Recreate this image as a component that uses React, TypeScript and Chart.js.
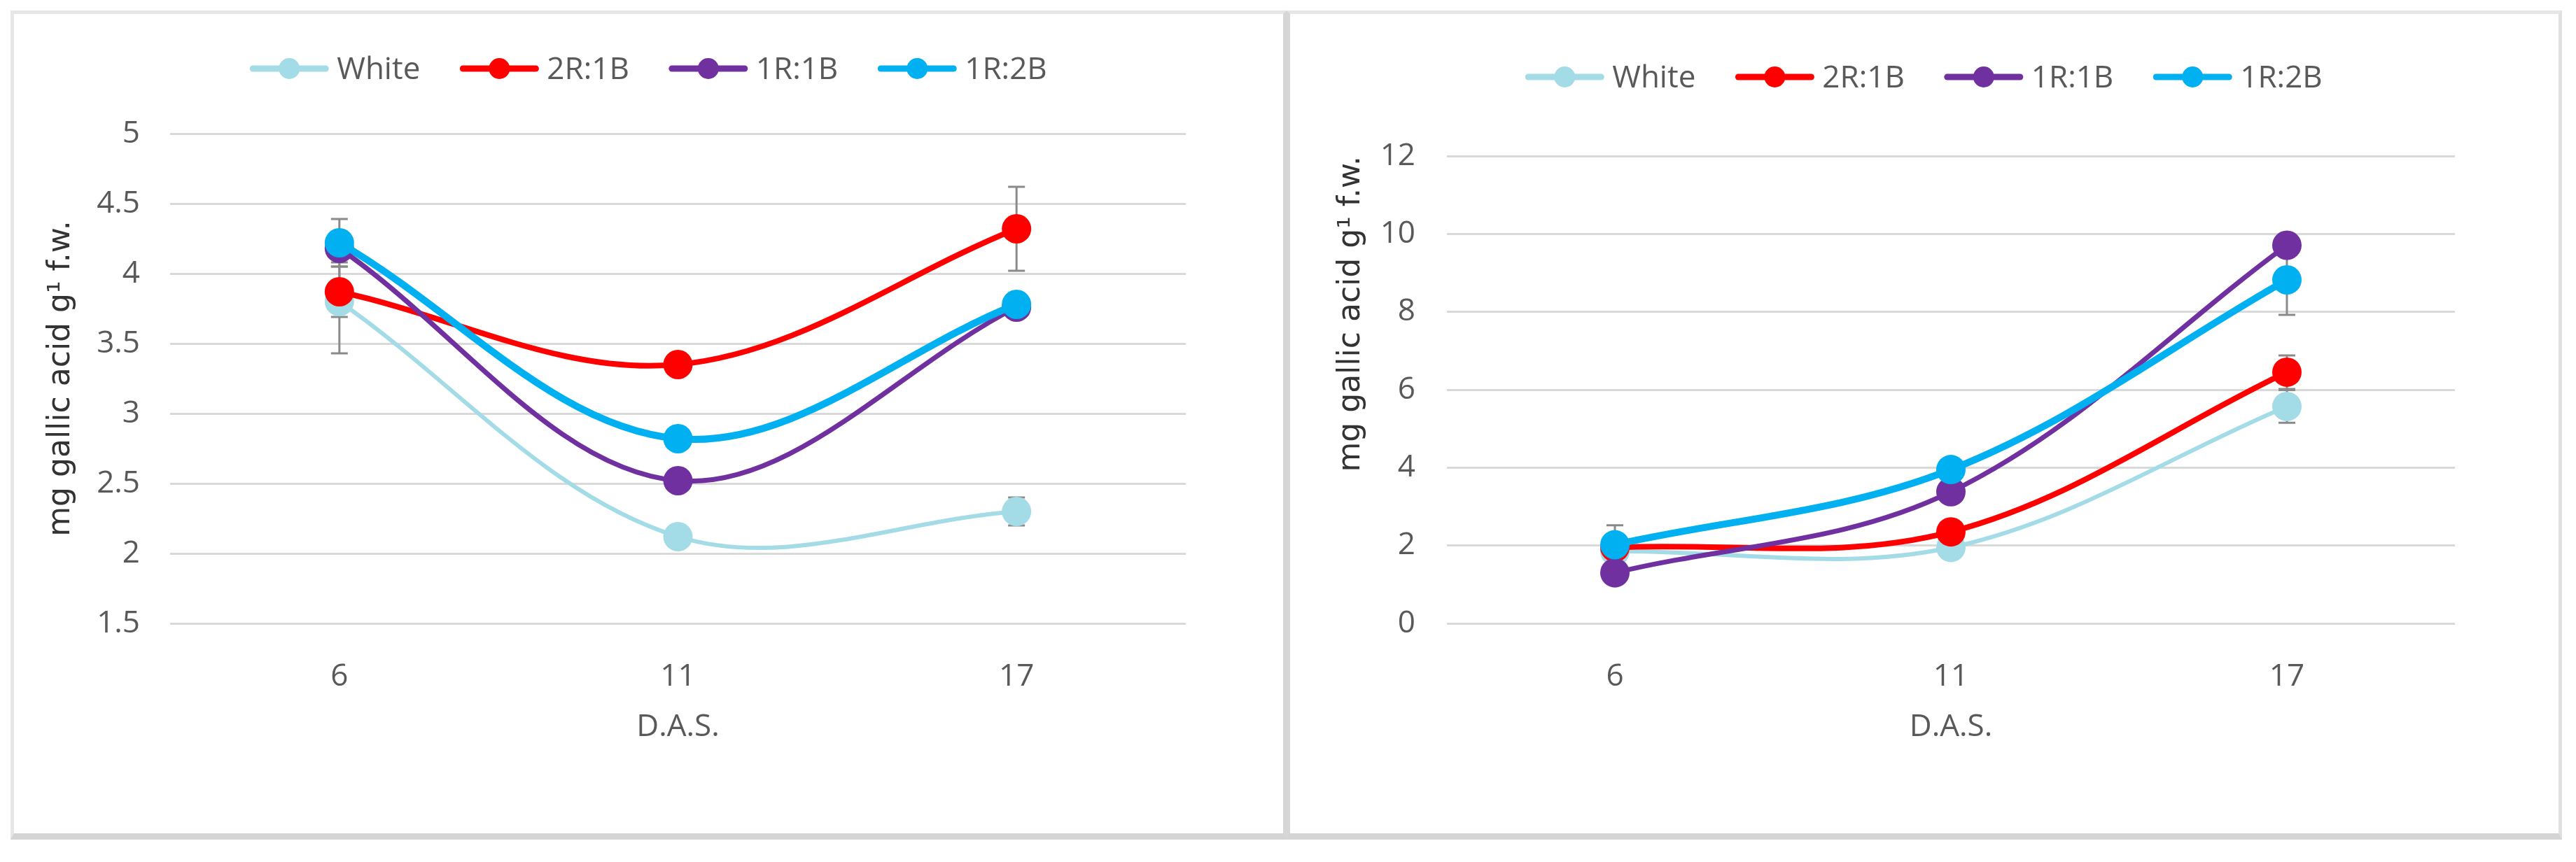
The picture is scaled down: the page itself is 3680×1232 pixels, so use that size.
import { useEffect, useRef } from "react";
import { Chart, registerables } from "chart.js";

Chart.register(...registerables);

// days after sowing on the x axis
const days = ["6", "11", "17"];
const seriesNames = ["White", "2R:1B", "1R:1B", "1R:2B"];
const seriesColors = ["#a3dce6", "#ff0000", "#7030a0", "#00b0f0"];
const seriesWidths = [6, 8, 7, 10];

// left panel (mg gallic acid, scale 1.5 - 5)
const leftWhite = [3.8, 2.12, 2.3];
const leftTwoRed = [3.87, 3.35, 4.32];
const leftEqual = [4.18, 2.52, 3.76];
const leftTwoBlue = [4.22, 2.82, 3.78];
const leftWhiteErr = [0.37, 0.04, 0.1];
const leftTwoRedErr = [0.18, 0.04, 0.3];
const leftEqualErr = [0.1, 0.04, 0.05];
const leftTwoBlueErr = [0.17, 0.04, 0.05];

// right panel (scale 0 - 12)
const rightWhite = [1.85, 1.95, 5.57];
const rightTwoRed = [1.95, 2.35, 6.45];
const rightEqual = [1.3, 3.38, 9.71];
const rightTwoBlue = [2.02, 3.95, 8.82];
const rightWhiteErr = [0.3, 0.1, 0.42];
const rightTwoRedErr = [0.2, 0.1, 0.43];
const rightEqualErr = [0.2, 0.1, 0.2];
const rightTwoBlueErr = [0.5, 0.1, 0.9];

const yTitle = "mg gallic acid g¹ f.w.";
const xTitle = "D.A.S.";

const textColor = "#595959";
const tickFont = { family: "'Open Sans', sans-serif", size: 44 };

// vertical error bars, drawn under the lines
const errorBars = {
  id: "errorBars",
  beforeDatasetsDraw(chart: any) {
    const { ctx } = chart;
    const x = chart.scales.x;
    const y = chart.scales.y;
    ctx.save();
    ctx.strokeStyle = "#8a8a8a";
    ctx.lineWidth = 3;
    chart.data.datasets.forEach((ds: any) => {
      ds.data.forEach((v: number, i: number) => {
        const e = ds.errors[i];
        if (!e) return;
        const px = x.getPixelForValue(i);
        const top = y.getPixelForValue(v + e);
        const bot = y.getPixelForValue(v - e);
        ctx.beginPath();
        ctx.moveTo(px, top);
        ctx.lineTo(px, bot);
        ctx.moveTo(px - 12, top);
        ctx.lineTo(px + 12, top);
        ctx.moveTo(px - 12, bot);
        ctx.lineTo(px + 12, bot);
        ctx.stroke();
      });
    });
    ctx.restore();
  },
};

// Excel style legend: line with marker, then the label
const lineLegend = {
  id: "lineLegend",
  afterDraw(chart: any, _args: any, opts: any) {
    const { ctx } = chart;
    const datasets = chart.data.datasets;
    ctx.save();
    ctx.font = `44px 'Open Sans', sans-serif`;
    ctx.textBaseline = "middle";
    const lineLen = 112;
    const textGap = 12;
    const itemGap = 57;
    const widths = datasets.map(
      (d: any) => lineLen + textGap + ctx.measureText(d.label).width
    );
    const total =
      widths.reduce((a: number, b: number) => a + b, 0) +
      itemGap * (datasets.length - 1);
    let x = (chart.width - total) / 2;
    datasets.forEach((d: any, i: number) => {
      ctx.strokeStyle = d.borderColor;
      ctx.fillStyle = d.borderColor;
      ctx.lineWidth = 9;
      ctx.lineCap = "round";
      ctx.beginPath();
      ctx.moveTo(x + 4, opts.y);
      ctx.lineTo(x + lineLen - 4, opts.y);
      ctx.stroke();
      ctx.beginPath();
      ctx.arc(x + lineLen / 2, opts.y, 15, 0, Math.PI * 2);
      ctx.fill();
      ctx.fillStyle = textColor;
      ctx.fillText(d.label, x + lineLen + textGap, opts.y + 2);
      x += widths[i] + itemGap;
    });
    ctx.restore();
  },
};

type PanelProps = {
  values: number[][];
  errors: number[][];
  yMin: number;
  yMax: number;
  yStep: number;
  left: number;
  top: number;
  width: number;
  height: number;
  plotLeft: number;
  plotRight: number;
  plotTop: number;
  plotBottom: number;
  tickGap: number;
  titleOffset: number;
  titleAlign: "center" | "end";
  legendY: number;
};

function GallicPanel(props: PanelProps) {
  const canvasRef = useRef<HTMLCanvasElement>(null);

  useEffect(() => {
    if (!canvasRef.current) return;
    const chart = new Chart(canvasRef.current, {
      type: "line",
      data: {
        labels: days,
        datasets: seriesNames.map((name, i) => ({
          label: name,
          data: props.values[i],
          errors: props.errors[i],
          borderColor: seriesColors[i],
          backgroundColor: seriesColors[i],
          pointBackgroundColor: seriesColors[i],
          pointBorderColor: seriesColors[i],
          borderWidth: seriesWidths[i],
          pointRadius: 21,
          pointBorderWidth: 0,
          tension: 0.35,
          order: seriesNames.length - i,
        })) as any,
      },
      options: {
        responsive: false,
        animation: false,
        devicePixelRatio: 1,
        layout: {
          padding: {
            left: 0,
            top: props.plotTop,
            right: props.width - props.plotRight,
            bottom: 0,
          },
        },
        plugins: {
          legend: { display: false },
          tooltip: { enabled: false },
          lineLegend: { y: props.legendY },
        } as any,
        scales: {
          x: {
            offset: true,
            grid: { display: false },
            border: { display: false },
            ticks: { color: textColor, font: tickFont, padding: 42 },
            title: {
              display: true,
              text: xTitle,
              color: textColor,
              font: tickFont,
              padding: { top: 0, bottom: 129 },
            },
            afterFit: (scale: any) => {
              scale.height = props.height - props.plotBottom;
            },
          },
          y: {
            min: props.yMin,
            max: props.yMax,
            grid: { color: "#d9d9d9", lineWidth: 3, drawTicks: false },
            border: { display: false },
            ticks: {
              stepSize: props.yStep,
              color: textColor,
              font: tickFont,
              padding: props.tickGap,
              // Excel shows 5, 4.5, 4 ... without trailing zeros
              callback: (v: any) => String(Math.round(Number(v) * 10) / 10),
            },
            title: {
              display: true,
              text: yTitle,
              color: "#333333",
              align: props.titleAlign,
              font: { family: "'DejaVu Sans', sans-serif", size: 44 },
              padding: { top: props.titleOffset, bottom: 0 },
            },
            afterFit: (scale: any) => {
              scale.width = props.plotLeft;
            },
          },
        },
      },
      plugins: [errorBars, lineLegend],
    });
    return () => chart.destroy();
  }, []);

  return (
    <canvas
      ref={canvasRef}
      width={props.width}
      height={props.height}
      style={{
        position: "absolute",
        left: props.left,
        top: props.top,
        width: props.width,
        height: props.height,
      }}
    />
  );
}

export default function App() {
  return (
    <div
      style={{
        position: "absolute",
        left: 0,
        top: 0,
        width: 3680,
        height: 1232,
        background: "#ffffff",
        overflow: "hidden",
      }}
    >
      <div
        style={{
          position: "absolute",
          left: 15,
          top: 15,
          width: 1823,
          height: 1185,
          boxSizing: "border-box",
          borderTop: "5px solid #e6e6e6",
          borderLeft: "5px solid #e6e6e6",
          borderRight: "5px solid #d6d6d6",
          borderBottom: "9px solid #d4d4d4",
        }}
      />
      <div
        style={{
          position: "absolute",
          left: 1838,
          top: 15,
          width: 1822,
          height: 1185,
          boxSizing: "border-box",
          borderTop: "5px solid #e6e6e6",
          borderLeft: "5px solid #d6d6d6",
          borderRight: "5px solid #e0e0e0",
          borderBottom: "9px solid #d4d4d4",
        }}
      />
      <GallicPanel
        values={[leftWhite, leftTwoRed, leftEqual, leftTwoBlue]}
        errors={[leftWhiteErr, leftTwoRedErr, leftEqualErr, leftTwoBlueErr]}
        yMin={1.5}
        yMax={5}
        yStep={0.5}
        left={17}
        top={18}
        width={1819}
        height={1177}
        plotLeft={226}
        plotRight={1677}
        plotTop={173}
        plotBottom={873}
        tickGap={43}
        titleOffset={44}
        titleAlign="center"
        legendY={80}
      />
      <GallicPanel
        values={[rightWhite, rightTwoRed, rightEqual, rightTwoBlue]}
        errors={[rightWhiteErr, rightTwoRedErr, rightEqualErr, rightTwoBlueErr]}
        yMin={0}
        yMax={12}
        yStep={2}
        left={1840}
        top={18}
        width={1817}
        height={1177}
        plotLeft={227}
        plotRight={1667}
        plotTop={205}
        plotBottom={873}
        tickGap={45}
        titleOffset={64}
        titleAlign="end"
        legendY={92}
      />
    </div>
  );
}
